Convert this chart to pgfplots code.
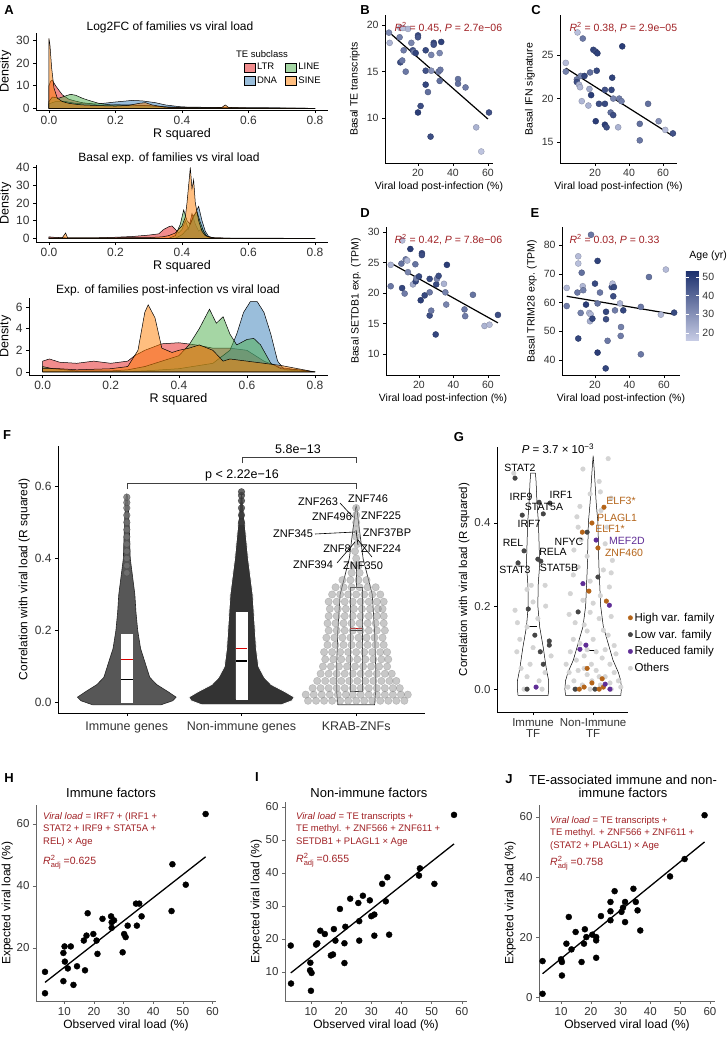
\documentclass[border=0pt]{standalone}
\usepackage{fontspec}
\setmainfont{Liberation Sans}
\usepackage{pgfplots}
\pgfplotsset{compat=1.18}
\definecolor{teLTR}{RGB}{228,26,28}
\definecolor{teDNA}{RGB}{55,126,184}
\definecolor{teLINE}{RGB}{77,175,74}
\definecolor{teSINE}{RGB}{255,127,0}
\definecolor{ggred}{RGB}{160,32,36}
\definecolor{hiv}{RGB}{180,100,25}
\definecolor{lov}{RGB}{70,70,70}
\definecolor{purp}{RGB}{95,45,150}
\definecolor{oth}{RGB}{212,212,212}
\newcommand\fs[1]{\fontsize{#1}{#1}\selectfont}
\pgfplotsset{
  colormap={agecm}{rgb255=(200,205,230) rgb255=(29,49,110)},
  gg/.style={scale only axis, axis x line*=bottom, axis y line*=left,
    axis line style={line width=0.6pt, black},
    tick align=outside, major tick length=3pt,
    tick style={black, line width=0.6pt},
    /pgf/number format/assume math mode=true,
    enlargelimits=false,
    tick label style={text=black!80}},
  dens/.style={forget plot, fill opacity=0.5, draw=black, line width=0.5pt},
  sc/.style={gg, colormap name=agecm, point meta min=15.8, point meta max=53.2,
    xtick={20,40,60}, tick label style={font=\fs{10.5}}, label style={font=\fs{10.5}},
    xlabel={Viral load post-infection (\%)}, xlabel style={yshift=2pt}},
  scp/.style={scatter, only marks, mark=*, mark size=3pt, scatter src=explicit},
  hj/.style={gg, axis line style={line width=0.7pt, black!60}, tick style={black!60, line width=0.6pt},
    tick label style={font=\fs{11.5}}, label style={font=\fs{12}},
    xlabel={Observed viral load (\%)}, ylabel={Expected viral load (\%)},
    xlabel style={yshift=3pt}, ylabel style={yshift=-3pt}},
}
\begin{document}
\begin{tikzpicture}
\useasboundingbox (0,0) rectangle (727pt,-1037pt);
\fill[white] (0,0) rectangle (727pt,-1037pt);

%%%%%%%%%%%%%%%% A1
\begin{axis}[gg, at={(36pt,-33pt)}, anchor=north west, width=292pt, height=77pt,
  xmin=-0.039, xmax=0.839, ymin=-0.75, ymax=33.4,
  xtick={0,0.2,0.4,0.6,0.8}, xticklabels={0.0,0.2,0.4,0.6,0.8}, ytick={0,10,20,30},
  tick label style={font=\fs{12}}, label style={font=\fs{12.5}},
  xlabel={R squared}, ylabel={Density}, xlabel style={yshift=3pt}, ylabel style={yshift=-2pt},
  legend columns=2, legend cell align=left,
  legend image code/.code={\draw[#1] (0pt,-4.5pt) rectangle (11pt,4.5pt);},
  legend style={at={(0.7,0.66)}, anchor=north west, draw=none, fill=none, font=\fs{9.5},
    /tikz/every even column/.append style={column sep=6pt}, row sep=1pt}]
\addlegendimage{fill=teLTR, fill opacity=0.5, draw=black}\addlegendentry{LTR}
\addlegendimage{fill=teLINE, fill opacity=0.5, draw=black}\addlegendentry{LINE}
\addlegendimage{fill=teDNA, fill opacity=0.5, draw=black}\addlegendentry{DNA}
\addlegendimage{fill=teSINE, fill opacity=0.5, draw=black}\addlegendentry{SINE}
\addplot[dens, fill=teLTR] coordinates {(0,10)(0.005,12)(0.01,12.5)(0.02,10)(0.03,8)(0.04,6)(0.06,4)(0.08,3.2)(0.1,2.5)(0.13,2)(0.15,1.2)(0.18,1.3)(0.2,1.5)(0.25,1.5)(0.3,1)(0.35,0.7)(0.4,0.5)(0.5,0.3)(0.6,0.2)(0.7,0.1)(0.8,0)} \closedcycle;
\addplot[dens, fill=teDNA] coordinates {(0,2)(0.02,3)(0.05,3)(0.08,2.2)(0.1,2)(0.15,2)(0.2,2.8)(0.25,3.5)(0.28,3.3)(0.32,2.5)(0.35,1.5)(0.4,0.6)(0.45,0.5)(0.5,0.3)(0.55,0.2)(0.65,0.2)(0.8,0)} \closedcycle;
\addplot[dens, fill=teLINE] coordinates {(0,3)(0.01,5)(0.03,4.5)(0.05,5.5)(0.065,6.2)(0.08,5.8)(0.1,4.5)(0.12,3.5)(0.15,2.2)(0.18,1.6)(0.2,1.5)(0.25,1.4)(0.3,1.2)(0.35,0.5)(0.4,0.2)(0.5,0.1)(0.8,0)} \closedcycle;
\addplot[dens, fill=teSINE] coordinates {(0,31)(0.003,28)(0.008,18)(0.015,9)(0.025,4.5)(0.04,3)(0.06,2.2)(0.08,1.8)(0.1,1.5)(0.15,1.2)(0.2,1.0)(0.24,1.3)(0.27,2.2)(0.29,2.5)(0.31,1.5)(0.35,0.5)(0.4,0.3)(0.5,0.2)(0.52,0.4)(0.53,1.5)(0.54,0.4)(0.6,0.1)(0.8,0)} \closedcycle;
\end{axis}
\node[font=\fs{12}] at (170pt,-27pt) {Log2FC of families vs viral load};
\node[font=\fs{9.5}] at (262pt,-54pt) {TE subclass};

%%%%%%%%%%%%%%%% A2
\begin{axis}[gg, at={(36pt,-165pt)}, anchor=north west, width=292pt, height=77pt,
  xmin=-0.039, xmax=0.839, ymin=-2.1, ymax=41.4,
  xtick={0,0.2,0.4,0.6,0.8}, xticklabels={0.0,0.2,0.4,0.6,0.8}, ytick={0,10,20,30,40},
  tick label style={font=\fs{12}}, label style={font=\fs{12.5}},
  xlabel={R squared}, ylabel={Density}, xlabel style={yshift=3pt}, ylabel style={yshift=-2pt}]
\addplot[dens, fill=teLTR] coordinates {(0,0.8)(0.02,0.5)(0.05,0.3)(0.1,0.3)(0.15,0.3)(0.2,0.6)(0.25,1)(0.3,1.8)(0.33,2.5)(0.345,5)(0.36,6.5)(0.37,7)(0.38,5)(0.39,3)(0.4,5)(0.41,10)(0.42,5)(0.43,14)(0.44,8)(0.45,4)(0.46,5.5)(0.47,2)(0.48,0.8)(0.5,0.2)(0.6,0.05)(0.8,0)} \closedcycle;
\addplot[dens, fill=teDNA] coordinates {(0,0)(0.38,0)(0.4,2)(0.42,6)(0.43,10)(0.44,14)(0.45,18)(0.46,10)(0.47,4)(0.48,1)(0.5,0)(0.8,0)} \closedcycle;
\addplot[dens, fill=teLINE] coordinates {(0,0)(0.36,0)(0.38,1.5)(0.395,8)(0.405,16)(0.415,10)(0.425,8)(0.435,13)(0.445,15)(0.455,9)(0.465,4)(0.475,1)(0.49,0)(0.8,0)} \closedcycle;
\addplot[dens, fill=teSINE] coordinates {(0,0.3)(0.04,0.3)(0.05,3)(0.056,0.3)(0.1,0.2)(0.2,0.3)(0.3,0.4)(0.34,0.8)(0.36,1.5)(0.38,3)(0.4,7)(0.41,12)(0.415,20)(0.42,30)(0.425,40)(0.43,28)(0.435,33)(0.44,20)(0.45,10)(0.46,4)(0.47,1.5)(0.49,0.3)(0.55,0)(0.8,0)} \closedcycle;
\end{axis}
\node[font=\fs{12}] at (169pt,-158pt) {Basal exp. of families vs viral load};

%%%%%%%%%%%%%%%% A3
\begin{axis}[gg, at={(29pt,-298pt)}, anchor=north west, width=299pt, height=77pt,
  xmin=-0.04, xmax=0.838, ymin=-0.28, ymax=6.83,
  xtick={0,0.2,0.4,0.6,0.8}, xticklabels={0.0,0.2,0.4,0.6,0.8}, ytick={0,2,4,6},
  tick label style={font=\fs{12}}, label style={font=\fs{12.5}},
  xlabel={R squared}, ylabel={Density}, xlabel style={yshift=3pt}, ylabel style={yshift=-2pt}]
\addplot[dens, fill=teLTR] coordinates {(0,1)(0.02,1.2)(0.05,0.9)(0.1,0.8)(0.15,1.0)(0.2,0.8)(0.25,1)(0.27,1.5)(0.3,2)(0.35,2.6)(0.4,2.7)(0.45,2.5)(0.5,2.2)(0.55,2.2)(0.6,2.0)(0.65,1)(0.7,0.4)(0.75,0.2)(0.8,0)} \closedcycle;
\addplot[dens, fill=teDNA] coordinates {(0,0)(0.2,0)(0.3,0.1)(0.4,0.3)(0.5,0.8)(0.55,2)(0.57,3.5)(0.59,5.5)(0.61,6.5)(0.63,6.5)(0.65,5.5)(0.67,3.5)(0.69,1)(0.71,0.2)(0.8,0)} \closedcycle;
\addplot[dens, fill=teLINE] coordinates {(0,0.5)(0.03,0.3)(0.1,0.1)(0.2,0.1)(0.25,0.2)(0.3,0.5)(0.35,1)(0.4,1.5)(0.43,2.5)(0.46,4)(0.49,5.8)(0.51,4.5)(0.53,5.1)(0.55,3.5)(0.57,2.5)(0.6,3.0)(0.62,3.1)(0.64,2.5)(0.67,0.8)(0.7,0.3)(0.75,0.2)(0.8,0)} \closedcycle;
\addplot[dens, fill=teSINE] coordinates {(0,0.3)(0.05,0.3)(0.1,0.2)(0.2,0.3)(0.25,0.5)(0.28,2)(0.3,5.5)(0.31,6.2)(0.33,5)(0.35,2.2)(0.38,1.8)(0.4,2)(0.43,2.2)(0.46,2.5)(0.5,2.0)(0.53,1.0)(0.55,1.2)(0.6,1.0)(0.65,0.8)(0.7,0.6)(0.75,0.3)(0.8,0)} \closedcycle;
\end{axis}
\node[font=\fs{12}] at (168pt,-290pt) {Exp. of families post-infection vs viral load};

%%%%%%%%%%%%%%%% B
\begin{axis}[sc, at={(385pt,-15pt)}, anchor=north west, width=108pt, height=148pt,
  xmin=1.14, xmax=62.9, ymin=5.16, ymax=21.1, ytick={10,15,20}, ylabel={Basal TE transcripts}]
\addplot[scp] table[meta=a] {
x y a
3.4 19.2 32
3.8 18.1 22
9.5 18.7 34
9.9 16.0 46
11.0 16.2 36
9.9 19.7 20
11.4 19.7 19
14.3 19.6 21
11.8 17.3 35
13 15 36
16.2 18.1 33
17.1 17.3 45
17.7 17.1 34
18.7 17 48
20 18.9 47
20 18.7 44
20 10.6 50
21.5 11.3 46
24.4 17.3 47
24.4 15.1 45
24.4 13.6 48
25.7 12.8 38
27.6 16.8 33
27.6 15.1 30
29 18.1 48
29 17.9 45
27.2 8.0 46
31.8 15 35
32.4 17 32
32.8 15.2 36
32.4 14 38
33.3 18.2 49
42.9 14.2 37
42.9 13.7 38
47.2 13.3 35
53.3 9.0 22
56.2 6.4 18
60.6 10.6 45
};
\addplot[black, line width=1.2pt] coordinates {(3.4,19.25)(60,9.9)};
\end{axis}
\node[anchor=west, text=ggred, font=\fs{10.5}] at (391pt,-28pt) {\textit{R}\textsuperscript{2} = 0.45, \textit{P} = 2.7e−06};

%%%%%%%%%%%%%%%% C
\begin{axis}[sc, at={(560pt,-15pt)}, anchor=north west, width=117pt, height=148pt,
  xmin=-0.6, xmax=68.2, ymin=12.6, ymax=29.6, ytick={15,20,25}, ylabel={Basal IFN signature}]
\addplot[scp] table[meta=a] {
x y a
2.8 24.1 20
2.8 23.1 34
9.3 22.2 36
9.3 21.9 46
9.7 27.6 19
10.6 21.6 22
11.2 21.3 21
11.6 22.6 34
12.2 19.7 21
12.8 26.9 36
13.8 22.6 48
16.1 19.2 22
16.7 21.1 24
17.1 23 38
17.7 20.4 50
19 25.6 48
20.4 25.4 46
21.4 25.2 49
21 23.2 47
20.4 17.4 50
22.3 19.4 46
25.8 21 45
25.8 19.4 47
25.8 17 50
26.8 16.7 46
29.2 18.4 38
29.7 21 48
30.1 22.4 49
30.7 18.1 46
30.7 20 33
33.6 16.7 22
34.2 20 35
35.6 19.7 34
36 26 50
46.3 17.1 38
46.3 15.2 36
51.2 19.4 38
57.4 17.4 30
61.3 16.4 20
65.8 16 45
};
\addplot[black, line width=1.2pt] coordinates {(2.8,23.5)(65.8,15.7)};
\end{axis}
\node[anchor=west, text=ggred, font=\fs{10.5}] at (566pt,-28pt) {\textit{R}\textsuperscript{2} = 0.38, \textit{P} = 2.9e−05};

%%%%%%%%%%%%%%%% D
\begin{axis}[sc, at={(386pt,-227pt)}, anchor=north west, width=114pt, height=148pt,
  xmin=0.87, xmax=67, ymin=6.56, ymax=30.8, ytick={10,15,20,25,30}, ylabel={Basal SETDB1 exp. (TPM)}]
\addplot[scp] table[meta=a] {
x y a
3.6 21.1 36
3.6 24.6 22
9.8 24.8 37
10.2 20.8 48
10.3 28.6 20
11.7 19.9 35
12.3 25.5 36
13.2 25.3 21
13.6 23.4 33
15 27.2 50
16.5 21.4 24
17.9 24.7 37
18.1 21.9 48
18.5 22.4 34
20 22.7 47
21 18.8 50
21.7 26.5 48
21.7 26.2 46
23.3 19.6 47
26.2 22.3 47
26.2 20.1 36
26.2 16.3 46
27.1 17.1 36
29.7 13.2 48
30 21.4 47
30.4 22.3 33
31.4 22.8 46
34.5 21.5 22
35.3 20.1 34
35.8 18.1 33
36.2 24.6 50
46.4 17.3 36
46.8 16.2 35
51.3 19.7 37
58 14.6 22
60.9 14.8 20
65.8 16.4 46
};
\addplot[black, line width=1.2pt] coordinates {(3.6,24.9)(65.8,15.1)};
\end{axis}
\node[anchor=west, text=ggred, font=\fs{10.5}] at (391pt,-240pt) {\textit{R}\textsuperscript{2} = 0.42, \textit{P} = 7.8e−06};

%%%%%%%%%%%%%%%% E
\begin{axis}[sc, at={(562pt,-227pt)}, anchor=north west, width=118pt, height=148pt,
  xmin=0.87, xmax=69.3, ymin=34.8, ymax=86.3, ytick={40,50,60,70,80}, ylabel={Basal TRIM28 exp. (TPM)},
  colorbar,
  colorbar style={at={(1.05,0.703)}, anchor=north west, scale only axis, width=13pt, height=70pt,
    ytick={20,30,40,50}, yticklabel pos=right, axis line style={draw=none},
    tick style={draw=white, line width=0.6pt}, major tick length=3pt, tick align=inside,
    yticklabel style={font=\fs{10.5}, text=black!80},
    /pgf/number format/assume math mode=true,
    title={Age (yr)}, title style={at={(0,1)}, anchor=south west, yshift=1pt, font=\fs{10.5}}}]
\addplot[scp] table[meta=a] {
x y a
3.6 65.1 21
3.6 58.8 35
10.3 76.1 20
10.3 73.6 19
9.8 63.5 36
10.3 47.5 48
11.7 56.4 34
12.3 70.4 38
12.9 65.7 21
13.2 64.3 34
14.8 59.3 50
16.7 56.4 22
17.1 53.5 23
17.5 55.9 21
18.5 54.4 48
20 66.6 47
21.5 74.5 49
21.5 59.7 37
21.5 42.6 50
22.9 63.5 36
17.7 83.6 36
26.4 56.8 48
26.4 54.2 46
27.3 46.7 36
26.2 37.1 48
29.7 65.4 46
30.2 66.6 20
31 65.4 47
30.6 62.2 46
31.6 57.3 35
34.5 59.7 22
35.1 51.5 34
34.9 48.4 35
36.4 57.3 48
46.6 58.5 36
46.6 42 36
51.3 68.9 37
58.2 55.8 21
61.1 71.5 20
65.9 56.5 47
};
\addplot[black, line width=1.2pt] coordinates {(3.6,62.2)(65.9,55.9)};
\end{axis}
\node[anchor=west, text=ggred, font=\fs{10.5}] at (566pt,-240pt) {\textit{R}\textsuperscript{2} = 0.03, \textit{P} = 0.33};

%%%%%%%%%%%%%%%% F
\begin{axis}[gg, at={(58pt,-446pt)}, anchor=north west, width=367pt, height=267pt,
  xmin=0.4, xmax=3.6, ymin=-0.029, ymax=0.712,
  xtick={1,2,3}, xticklabels={Immune genes, Non-immune genes, KRAB-ZNFs},
  ytick={0,0.2,0.4,0.6}, yticklabels={0.0,0.2,0.4,0.6},
  xticklabel style={font=\fs{12.5}, yshift=-2pt}, yticklabel style={font=\fs{12}},
  ylabel={Correlation with viral load (R squared)}, ylabel style={font=\fs{12}, yshift=-2pt}]
% KRAB-ZNF points
\addplot[only marks, mark=*, mark size=3.7pt, mark options={draw=gray!90, fill=gray!85, opacity=0.5}] table {
x y
2.58 0.005
2.65 0.005
2.72 0.005
2.79 0.005
2.86 0.005
2.93 0.005
3.00 0.005
3.07 0.005
3.14 0.005
3.21 0.005
3.28 0.005
3.35 0.005
3.42 0.005
2.56 0.022
2.63 0.022
2.70 0.022
2.77 0.022
2.84 0.022
2.91 0.022
2.97 0.022
3.04 0.022
3.11 0.022
3.18 0.022
3.25 0.022
3.32 0.022
3.39 0.022
3.45 0.022
2.62 0.04
2.69 0.04
2.76 0.04
2.83 0.04
2.90 0.04
2.97 0.04
3.04 0.04
3.11 0.04
3.18 0.04
3.25 0.04
3.32 0.04
3.38 0.04
2.66 0.06
2.73 0.06
2.80 0.06
2.87 0.06
2.94 0.06
3.01 0.06
3.08 0.06
3.15 0.06
3.22 0.06
3.29 0.06
3.35 0.06
2.69 0.08
2.76 0.08
2.83 0.08
2.90 0.08
2.97 0.08
3.04 0.08
3.11 0.08
3.18 0.08
3.25 0.08
3.31 0.08
2.71 0.10
2.78 0.10
2.85 0.10
2.92 0.10
2.99 0.10
3.06 0.10
3.13 0.10
3.20 0.10
3.27 0.10
2.73 0.12
2.80 0.12
2.87 0.12
2.94 0.12
3.01 0.12
3.08 0.12
3.15 0.12
3.22 0.12
3.28 0.12
2.72 0.14
2.79 0.14
2.86 0.14
2.93 0.14
3.00 0.14
3.07 0.14
3.14 0.14
3.21 0.14
3.27 0.14
2.75 0.16
2.82 0.16
2.89 0.16
2.96 0.16
3.03 0.16
3.10 0.16
3.17 0.16
3.24 0.16
2.74 0.18
2.81 0.18
2.88 0.18
2.95 0.18
3.02 0.18
3.09 0.18
3.16 0.18
3.23 0.18
2.76 0.20
2.83 0.20
2.90 0.20
2.97 0.20
3.04 0.20
3.11 0.20
3.18 0.20
3.25 0.20
2.75 0.22
2.82 0.22
2.89 0.22
2.96 0.22
3.03 0.22
3.10 0.22
3.17 0.22
3.24 0.22
2.76 0.24
2.83 0.24
2.90 0.24
2.97 0.24
3.04 0.24
3.11 0.24
3.18 0.24
3.24 0.24
2.77 0.26
2.84 0.26
2.91 0.26
2.98 0.26
3.05 0.26
3.12 0.26
3.19 0.26
3.23 0.26
2.76 0.28
2.83 0.28
2.90 0.28
2.97 0.28
3.04 0.28
3.11 0.28
3.18 0.28
3.24 0.28
2.79 0.30
2.86 0.30
2.93 0.30
3.00 0.30
3.07 0.30
3.14 0.30
3.21 0.30
2.82 0.32
2.89 0.32
2.96 0.32
3.03 0.32
3.10 0.32
3.17 0.32
2.88 0.34
2.95 0.34
3.02 0.34
3.09 0.34
2.96 0.36
3.03 0.36
2.98 0.38
3.02 0.38
3.00 0.40
2.99 0.42
3.01 0.44
3.00 0.46
3.00 0.48
3.00 0.50
3.00 0.52
3.00 0.54
};
% Immune genes violin
\addplot[fill=black!66, draw=black!85, line width=0.6pt] coordinates {(0.70,-0.006)(0.60,0.005)(0.57,0.015)(0.64,0.03)(0.74,0.05)(0.80,0.07)(0.83,0.1)(0.88,0.15)(0.905,0.2)(0.92,0.25)(0.93,0.3)(0.95,0.35)(0.97,0.4)(0.98,0.5)(0.992,0.57)(1.0,0.578)(1.008,0.57)(1.02,0.5)(1.03,0.4)(1.05,0.35)(1.07,0.3)(1.08,0.25)(1.095,0.2)(1.12,0.15)(1.17,0.1)(1.20,0.07)(1.26,0.05)(1.36,0.03)(1.43,0.015)(1.40,0.005)(1.30,-0.006)(0.70,-0.006)};
\addplot[only marks, mark=*, mark size=3.3pt, mark options={draw=black!70, fill=black!55, opacity=0.8}] coordinates {(1,0.36)(1,0.38)(1,0.40)(1,0.42)(1,0.44)(1,0.46)(1,0.48)(1,0.50)(1,0.52)(1,0.54)(1,0.555)(1,0.57)};
% Non-immune genes violin
\addplot[fill=black!80, draw=white, line width=0.8pt] coordinates {(1.65,-0.006)(1.56,0.005)(1.54,0.015)(1.62,0.03)(1.74,0.05)(1.80,0.07)(1.85,0.1)(1.87,0.15)(1.88,0.2)(1.89,0.25)(1.90,0.3)(1.92,0.35)(1.94,0.4)(1.955,0.45)(1.97,0.5)(1.992,0.58)(2.0,0.588)(2.008,0.58)(2.03,0.5)(2.045,0.45)(2.06,0.4)(2.08,0.35)(2.10,0.3)(2.11,0.25)(2.12,0.2)(2.13,0.15)(2.15,0.1)(2.20,0.07)(2.26,0.05)(2.38,0.03)(2.46,0.015)(2.44,0.005)(2.35,-0.006)(1.65,-0.006)};
\addplot[only marks, mark=*, mark size=3.3pt, mark options={draw=black!80, fill=black!75, opacity=0.8}] coordinates {(2,0.50)(2,0.52)(2,0.54)(2,0.56)(2,0.575)(2,0.585)};
% KRAB violin outline
\addplot[draw=black!80, line width=0.7pt] coordinates {(2.84,-0.006)(2.83,0.03)(2.83,0.1)(2.84,0.2)(2.86,0.3)(2.90,0.35)(2.94,0.4)(2.96,0.45)(2.98,0.5)(2.995,0.54)(3.0,0.545)(3.005,0.54)(3.02,0.5)(3.04,0.45)(3.06,0.4)(3.10,0.35)(3.14,0.3)(3.16,0.2)(3.17,0.1)(3.17,0.03)(3.16,-0.006)(2.84,-0.006)};
% boxes
\addplot[fill=white, draw=white, line width=0.4pt] coordinates {(0.95,0.0)(1.05,0.0)(1.05,0.19)(0.95,0.19)(0.95,0.0)};
\addplot[fill=white, draw=white, line width=0.4pt] coordinates {(1.95,0.01)(2.05,0.01)(2.05,0.25)(1.95,0.25)(1.95,0.01)};
\addplot[draw=black!80, line width=0.7pt] coordinates {(3,0.32)(3,0.37)};
\addplot[fill=white, draw=black!80, line width=0.6pt] coordinates {(2.95,0.03)(3.05,0.03)(3.05,0.32)(2.95,0.32)(2.95,0.03)};
\addplot[black, line width=0.9pt] coordinates {(0.95,0.065)(1.05,0.065)};
\addplot[black, line width=1.6pt] coordinates {(1.95,0.115)(2.05,0.115)};
\addplot[black, line width=0.9pt] coordinates {(2.95,0.2)(3.05,0.2)};
\addplot[red!85!black, line width=0.6pt] coordinates {(0.95,0.12)(1.05,0.12)};
\addplot[red!85!black, line width=0.6pt] coordinates {(1.95,0.15)(2.05,0.15)};
\addplot[red!85!black, line width=0.8pt] coordinates {(2.95,0.205)(3.05,0.205)};
\end{axis}
% F brackets and labels
\draw[black!75, line width=0.6pt] (242pt,-463pt) -- (242pt,-457pt) -- (356pt,-457pt) -- (356pt,-463pt);
\draw[black!75, line width=0.6pt] (127pt,-489pt) -- (127pt,-483pt) -- (356pt,-483pt) -- (356pt,-489pt);
\node[font=\fs{12.5}] at (298pt,-449pt) {5.8e−13};
\node[font=\fs{12.5}] at (242pt,-475pt) {p < 2.22e−16};
\draw[black, line width=0.6pt] (340pt,-503pt) -- (353pt,-517pt);
\draw[black, line width=0.6pt] (315pt,-534pt) -- (355pt,-532pt);
\draw[black, line width=0.6pt] (337pt,-563pt) -- (355pt,-542pt);
\draw[black, line width=0.6pt] (372pt,-557pt) -- (358pt,-540pt);
\draw[black, line width=0.6pt] (358pt,-545pt) -- (356pt,-530pt);
\begin{scope}[font=\fs{11}]
\node at (318pt,-502pt) {ZNF263};
\node at (368pt,-499pt) {ZNF746};
\node at (332pt,-517pt) {ZNF496};
\node at (381pt,-516pt) {ZNF225};
\node at (293pt,-534pt) {ZNF345};
\node at (387pt,-533pt) {ZNF37BP};
\node at (337pt,-549pt) {ZNF8};
\node at (381pt,-549pt) {ZNF224};
\node at (313pt,-565pt) {ZNF394};
\node at (363pt,-566pt) {ZNF350};
\end{scope}

%%%%%%%%%%%%%%%% G
\begin{axis}[gg, at={(497pt,-447pt)}, anchor=north west, width=131pt, height=265pt,
  xmin=0.4, xmax=2.58, ymin=-0.055, ymax=0.583,
  xtick={1,2}, xticklabels={{Immune\\TF},{Non-Immune\\TF}},
  xticklabel style={align=center, font=\fs{11.5}},
  ytick={0,0.2,0.4}, yticklabels={0.0,0.2,0.4}, yticklabel style={font=\fs{11.5}},
  ylabel={Correlation with viral load (R squared)}, ylabel style={font=\fs{11.5}, yshift=-2pt},
  legend cell align=left,
  legend style={at={(1.0,0.39)}, anchor=north west, draw=none, fill=none, font=\fs{11.5}, row sep=3pt, inner xsep=0pt}]
\addlegendimage{only marks, mark=*, mark size=2.2pt, hiv}\addlegendentry{High var. family}
\addlegendimage{only marks, mark=*, mark size=2.2pt, lov}\addlegendentry{Low var. family}
\addlegendimage{only marks, mark=*, mark size=2.2pt, purp}\addlegendentry{Reduced family}
\addlegendimage{only marks, mark=*, mark size=2.2pt, oth}\addlegendentry{Others}
\addplot[forget plot, only marks, mark=*, mark size=2.3pt, oth] coordinates {
(0.68,0.52)(0.75,0.30)(0.97,0.25)(0.9,0.24)(1.0,0.21)(0.7,0.19)(0.74,0.16)(0.9,0.15)(1.2,0.25)(1.21,0.2)(1.08,0.17)(1.0,0.1)(0.73,0.09)(0.8,0.05)(0.9,0.03)(1.1,0.02)(1.2,0.04)(0.85,0.0)(1.15,0.0)(0.95,0.06)(1.3,0.08)(0.78,0.12)
(1.83,0.53)(2.25,0.555)(2.1,0.5)(1.78,0.44)(2.12,0.475)(2.13,0.43)(1.73,0.415)(2.3,0.46)(1.95,0.47)
(1.75,0.39)(2.23,0.39)(1.68,0.335)(2.2,0.35)(1.9,0.32)(2.32,0.31)(1.8,0.36)
(1.75,0.294)(2.17,0.287)(2.27,0.246)(1.67,0.275)(1.83,0.214)(2.0,0.207)(1.95,0.26)(2.3,0.28)(1.62,0.23)(2.12,0.225)
(1.7,0.16)(1.85,0.155)(2.17,0.142)(1.67,0.12)(2.0,0.12)(2.25,0.13)(1.6,0.18)(2.3,0.175)(1.95,0.185)(2.1,0.17)(1.78,0.11)(2.35,0.105)(1.9,0.14)
(1.62,0.09)(1.72,0.07)(1.85,0.08)(1.97,0.06)(2.05,0.09)(2.15,0.075)(2.28,0.06)(2.38,0.085)(1.55,0.06)(1.9,0.095)(2.2,0.095)
(1.6,0.04)(1.68,0.02)(1.75,0.045)(1.82,0.01)(1.9,0.035)(1.98,0.02)(2.05,0.045)(2.12,0.01)(2.2,0.03)(2.28,0.015)(2.35,0.04)(2.42,0.02)(2.46,0.005)(1.58,0.005)(1.72,0.0)(1.95,0.0)(2.3,0.0)(2.1,0.03)(1.85,0.05)};
\addplot[forget plot, draw=black, line width=0.5pt] coordinates {(0.75,-0.015)(0.74,0.0)(0.74,0.02)(0.78,0.05)(0.83,0.1)(0.89,0.15)(0.92,0.2)(0.915,0.25)(0.89,0.3)(0.90,0.35)(0.91,0.4)(0.935,0.45)(0.95,0.5)(0.96,0.52)(1.04,0.52)(1.05,0.5)(1.065,0.45)(1.09,0.4)(1.10,0.35)(1.11,0.3)(1.085,0.25)(1.08,0.2)(1.11,0.15)(1.17,0.1)(1.22,0.05)(1.26,0.02)(1.26,0.0)(1.25,-0.015)(0.75,-0.015)};
\addplot[forget plot, draw=black, line width=0.5pt] coordinates {(1.54,-0.015)(1.53,0.0)(1.54,0.02)(1.58,0.04)(1.67,0.07)(1.73,0.1)(1.83,0.15)(1.875,0.2)(1.905,0.3)(1.92,0.4)(1.95,0.45)(1.97,0.5)(1.988,0.54)(2.0,0.562)(2.012,0.54)(2.03,0.5)(2.05,0.45)(2.08,0.4)(2.095,0.3)(2.125,0.2)(2.17,0.15)(2.27,0.1)(2.33,0.07)(2.42,0.04)(2.46,0.02)(2.47,0.0)(2.46,-0.015)(1.54,-0.015)};
\addplot[forget plot, black, line width=0.9pt] coordinates {(0.93,0.15)(1.07,0.15)};
\addplot[forget plot, black, line width=0.9pt] coordinates {(1.93,0.093)(2.07,0.093)};
\addplot[forget plot, only marks, mark=*, mark size=2.3pt, lov] coordinates {(0.70,0.508)(1.10,0.45)(1.28,0.448)(1.17,0.422)(0.82,0.419)(0.85,0.333)(1.08,0.313)(0.75,0.304)(1.13,0.308)(0.92,0.193)(1.03,0.13)(1.27,0.116)(1.27,0.106)(1.12,0.09)(1.17,0.06)(0.9,0.0)
(1.9,0.378)(2.08,0.27)(1.75,0.186)(1.7,0.0)(2.03,0.0)};
\addplot[forget plot, only marks, mark=*, mark size=2.3pt, hiv] coordinates {(2.18,0.438)(1.98,0.40)(1.82,0.378)(2.08,0.34)(1.93,0.236)(2.22,0.212)(1.77,0.0)(1.98,0.015)(2.1,0.0)(2.17,0.005)(1.9,0.05)(2.15,0.025)(1.85,0.005)};
\addplot[forget plot, only marks, mark=*, mark size=2.3pt, purp] coordinates {(2.05,0.359)(1.83,0.254)(2.27,0.202)(1.78,0.096)(1.88,0.106)(2.2,0.012)(2.28,0.0)(1.05,0.005)};
\end{axis}
\node[font=\fs{11.5}] at (558pt,-449pt) {\textit{P} = 3.7 × 10\textsuperscript{−3}};
\begin{scope}[font=\fs{10.5}]
\node at (520pt,-468pt) {STAT2};
\node at (521pt,-497pt) {IRF9};
\node at (561pt,-495pt) {IRF1};
\node at (544pt,-507pt) {STAT5A};
\node at (529pt,-524pt) {IRF7};
\node at (513pt,-543pt) {REL};
\node at (553pt,-552pt) {RELA};
\node at (515pt,-570pt) {STAT3};
\node at (559pt,-568pt) {STAT5B};
\node at (569pt,-542pt) {NFYC};
\node[text=hiv] at (621pt,-501pt) {ELF3*};
\node[text=hiv] at (617pt,-518pt) {PLAGL1};
\node[text=hiv] at (610pt,-529pt) {ELF1*};
\node[text=purp] at (627pt,-541pt) {MEF2D};
\node[text=hiv] at (624pt,-553pt) {ZNF460};
\end{scope}

%%%%%%%%%%%%%%%% H
\begin{axis}[hj, at={(36pt,-805pt)}, anchor=north west, width=180pt, height=196pt,
  xmin=0.46, xmax=61.2, ymin=2.9, ymax=66.1, xtick={10,20,30,40,50,60}, ytick={20,40,60}]
\addplot[only marks, mark=*, mark size=3pt, black] coordinates {(3.5,5.4)(3.5,12.3)(9.7,9.3)(9.7,18.4)(10.1,20.5)(10.2,15.6)(11.2,13.4)(12.2,20.5)(13.1,8.1)(14.3,14.1)(17,12.8)(16.6,22.4)(17.5,24)(17.9,31.2)(19.8,24.5)(20.9,22.4)(21.2,18.1)(22.9,29.4)(25.8,30.2)(26,28.3)(26.8,28.9)(26,26.5)(29.7,18.6)(30.2,24.5)(30.7,23.5)(31.4,27.2)(34.2,34.3)(35.3,34.3)(34.5,27.2)(36.1,30.2)(46.2,31.9)(46.5,47)(51,40.4)(57.7,63.2)};
\addplot[black, line width=1.3pt] coordinates {(3.5,8.9)(57.7,49.4)};
\end{axis}
\node[font=\fs{13}] at (111pt,-793pt) {Immune factors};
\node[anchor=north west, align=left, text=ggred, font=\fontsize{9.5}{12.8}\selectfont, inner sep=0pt] at (43pt,-812pt) {\textit{Viral load} = IRF7 + (IRF1 +\\STAT2 + IRF9 + STAT5A +\\REL) × Age};
\node[anchor=west, text=ggred, font=\fs{10.5}, inner sep=0pt] at (43pt,-862pt) {\textit{R}\makebox[0pt][l]{\raisebox{4.5pt}{\fs{7.5}2}}\raisebox{-3pt}{\fs{7.5}adj} =0.625};

%%%%%%%%%%%%%%%% I
\begin{axis}[hj, at={(285pt,-802pt)}, anchor=north west, width=182pt, height=199pt,
  xmin=1.4, xmax=61.7, ymin=1.2, ymax=61.5, xtick={10,20,30,40,50,60}, ytick={10,20,30,40,50,60}]
\addplot[only marks, mark=*, mark size=3pt, black] coordinates {(3.3,18)(3.4,6.5)(9.8,12.8)(9.7,10.5)(10.2,9.7)(10,4.3)(11.7,18.3)(12.1,18.7)(13.1,22.5)(14.6,21.5)(16.6,15)(17.3,15.3)(17.6,23)(18.1,19.5)(19.6,29.1)(21.1,18.7)(21.1,12.7)(21.4,23.7)(23,32.2)(25.7,30.9)(26,25.4)(26,19.5)(27.2,33.1)(29.5,31.7)(30,26.9)(31,27.4)(31,21)(33.6,36.7)(34.8,31.4)(35.3,38.7)(35.9,21.3)(45.8,39.2)(46.1,41.4)(50.9,36.7)(57.4,57.6)};
\addplot[black, line width=1.3pt] coordinates {(3.3,9.7)(57.4,48.8)};
\end{axis}
\node[font=\fs{13}] at (369pt,-793pt) {Non-immune factors};
\node[anchor=north west, align=left, text=ggred, font=\fontsize{9.5}{12.8}\selectfont, inner sep=0pt] at (296pt,-812pt) {\textit{Viral load} = TE transcripts +\\TE methyl. + ZNF566 + ZNF611 +\\SETDB1 + PLAGL1 × Age};
\node[anchor=west, text=ggred, font=\fs{10.5}, inner sep=0pt] at (296pt,-860pt) {\textit{R}\makebox[0pt][l]{\raisebox{4.5pt}{\fs{7.5}2}}\raisebox{-3pt}{\fs{7.5}adj} =0.655};

%%%%%%%%%%%%%%%% J
\begin{axis}[hj, at={(539pt,-805pt)}, anchor=north west, width=176pt, height=196pt,
  xmin=2.6, xmax=61.7, ymin=-1.3, ymax=64, xtick={10,20,30,40,50,60}, ytick={0,20,40,60}]
\addplot[only marks, mark=*, mark size=3pt, black] coordinates {(3.8,12)(3.8,1.1)(10,12.6)(10.3,11.7)(10.3,7.2)(11.8,17.8)(12.6,26.7)(13.5,15.9)(14.9,21.7)(16.9,11.7)(17.7,17.8)(18,22.6)(18.5,20)(20.5,20.8)(21.8,20)(21.8,18.9)(21.8,13.1)(23.4,27)(26.6,31.7)(26.6,28.6)(26.6,25.6)(28,35.3)(30.3,28.4)(30.8,29.8)(31.5,31.7)(31.5,25)(34.3,36.1)(35.1,31.7)(35.7,28.9)(36.6,22.2)(46.6,40.2)(51.5,46)(58.2,60.6)};
\addplot[black, line width=1.3pt] coordinates {(3.8,7.8)(58.2,51.7)};
\end{axis}
\node[font=\fs{13}, align=center] at (623pt,-786pt) {TE-associated immune and non-\\immune factors};
\node[anchor=north west, align=left, text=ggred, font=\fontsize{9.5}{12.5}\selectfont, inner sep=0pt] at (550pt,-816pt) {\textit{Viral load} = TE transcripts +\\TE methyl. + ZNF566 + ZNF611 +\\(STAT2 + PLAGL1) × Age};
\node[anchor=west, text=ggred, font=\fs{10.5}, inner sep=0pt] at (550pt,-863pt) {\textit{R}\makebox[0pt][l]{\raisebox{4.5pt}{\fs{7.5}2}}\raisebox{-3pt}{\fs{7.5}adj} =0.758};

%%%%%%%%%%%%%%%% letters
\begin{scope}[font=\bfseries\fs{13}]
\node at (9pt,-10pt) {A};
\node at (365pt,-10pt) {B};
\node at (536pt,-10pt) {C};
\node at (365pt,-213pt) {D};
\node at (535pt,-213pt) {E};
\node at (7pt,-435pt) {F};
\node at (459pt,-437pt) {G};
\node at (9pt,-778pt) {H};
\node at (257pt,-777pt) {I};
\node at (509pt,-779pt) {J};
\end{scope}
\end{tikzpicture}
\end{document}
